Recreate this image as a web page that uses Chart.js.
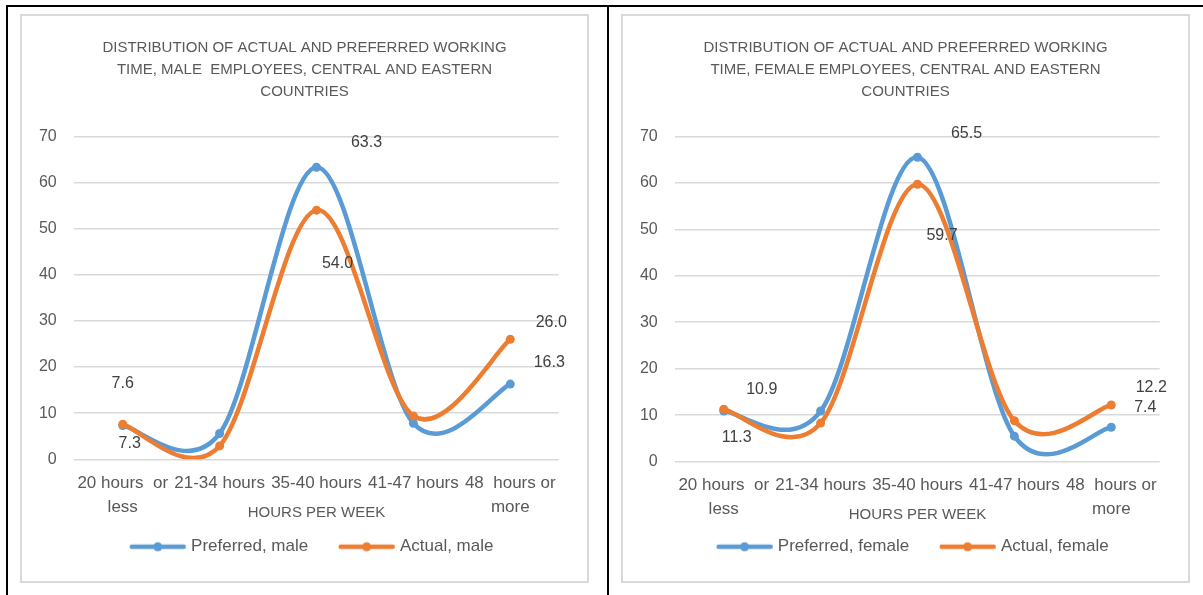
<!DOCTYPE html>
<html>
<head>
<meta charset="utf-8">
<script src="https://cdn.jsdelivr.net/npm/chart.js@4.4.1/dist/chart.umd.min.js"></script>
<style>
  body{margin:0;background:#fff;width:1203px;height:595px;overflow:hidden;position:relative;}
  .rule{position:absolute;background:#000;}
  .box{position:absolute;top:14px;width:565px;height:565px;border:2px solid #d9d9d9;background:#fff;}
  .box canvas{display:block;}
</style>
</head>
<body>
<div class="rule" style="left:6px;top:5px;width:1197px;height:2px"></div>
<div class="rule" style="left:6px;top:5px;width:2px;height:590px"></div>
<div class="rule" style="left:607px;top:5px;width:2px;height:590px"></div>
<div class="box" style="left:20px"><canvas id="male" width="565" height="565"></canvas></div>
<div class="box" style="left:621px"><canvas id="female" width="565" height="565"></canvas></div>
<script>
// data
const categories = [['20 hours  or', 'less'], '21-34 hours', '35-40 hours', '41-47 hours', ['48  hours or', 'more']];
const preferredMale = [7.3, 5.6, 63.3, 7.8, 16.3];
const actualMale = [7.6, 2.9, 54.0, 9.4, 26.0];
const preferredFemale = [10.9, 10.9, 65.5, 5.5, 7.4];
const actualFemale = [11.3, 8.3, 59.7, 8.8, 12.2];

const titleMale = ['DISTRIBUTION OF ACTUAL AND PREFERRED WORKING', 'TIME, MALE  EMPLOYEES, CENTRAL AND EASTERN', 'COUNTRIES'];
const titleFemale = ['DISTRIBUTION OF ACTUAL AND PREFERRED WORKING', 'TIME, FEMALE EMPLOYEES, CENTRAL AND EASTERN', 'COUNTRIES'];

// where the value labels sit, relative to their point (dataset, index, dx, dy)
const labelsMale = [[0,0,7,18],[1,0,0,-41],[0,2,50,-25],[1,2,21,53],[0,4,39,-21],[1,4,41,-17]];
const labelsFemale = [[0,0,38,-21],[1,0,13,28],[0,2,49,-24],[1,2,24.5,51],[0,4,34,-20],[1,4,40,-17]];

const BLUE = '#5b9bd5';
const ORANGE = '#ed7d31';
const GREY = '#595959';
const FONT = "'Liberation Sans', Arial, sans-serif";

// legend marker: thick line with a dot in the middle (blank strip on the left = gap between items)
function legendIcon(color){
    const c = document.createElement('canvas');
    c.width = 74; c.height = 12;
    const g = c.getContext('2d');
    g.strokeStyle = color;
    g.lineWidth = 4.5;
    g.lineCap = 'round';
    g.beginPath(); g.moveTo(19.75, 6); g.lineTo(71.75, 6); g.stroke();
    g.fillStyle = color;
    g.beginPath(); g.arc(45.75, 6, 4.5, 0, Math.PI*2); g.fill();
    return c;
}
const icons = [legendIcon(BLUE), legendIcon(ORANGE)];

// office-style smoothing: uniform catmull-rom (control points at +-1/6 of neighbour span)
const smoothLines = {
    id: 'smoothLines',
    beforeDatasetsDraw(chart){
        chart.getSortedVisibleDatasetMetas().forEach(meta => {
            meta.dataset.updateControlPoints(chart.chartArea, meta.indexAxis);
            const pts = meta.data;
            const n = pts.length;
            pts.forEach((p, i) => {
                const prev = pts[Math.max(i - 1, 0)];
                const next = pts[Math.min(i + 1, n - 1)];
                const dx = (next.x - prev.x) / 6;
                const dy = (next.y - prev.y) / 6;
                p.cp1x = p.x - dx; p.cp1y = p.y - dy;
                p.cp2x = p.x + dx; p.cp2y = p.y + dy;
            });
            meta.dataset._path = undefined;
        });
    }
};

function valueLabels(list){
    return {
        id: 'valueLabels',
        afterLayout(chart){
            // title and legend are centred on the whole box, not only the plot width
            chart.legend.left = 0;
            chart.legend.right = chart.width;
            chart.titleBlock.left = 0;
            chart.titleBlock.right = chart.width;
        },
        afterDatasetsDraw(chart){
            const ctx = chart.ctx;
            ctx.save();
            ctx.font = '16px ' + FONT;
            ctx.fillStyle = '#404040';
            ctx.textAlign = 'center';
            ctx.textBaseline = 'middle';
            list.forEach(([ds, i, dx, dy]) => {
                const pt = chart.getDatasetMeta(ds).data[i];
                const v = chart.data.datasets[ds].data[i];
                ctx.fillText(v.toFixed(1), pt.x + dx, pt.y + dy);
            });
            ctx.restore();
        }
    };
}

function makeChart(id, title, names, prefData, actData, labelList, axisHeight, axisTitleShift){
    return new Chart(document.getElementById(id), {
        type: 'line',
        data: {
            labels: categories,
            datasets: [
                {label: names[0], data: prefData, borderColor: BLUE, backgroundColor: BLUE, order: 1},
                {label: names[1], data: actData, borderColor: ORANGE, backgroundColor: ORANGE, order: 0}
            ]
        },
        options: {
            responsive: false,
            animation: false,
            events: [],
            layout: {padding: {left: 0, right: 28.3, top: 0, bottom: 15.8}},
            elements: {
                line: {borderWidth: 4.5, tension: 0.4, fill: false, capBezierPoints: false},
                point: {radius: 4.5, borderWidth: 0, hoverRadius: 4.5}
            },
            scales: {
                x: {
                    offset: true,
                    grid: {display: false, drawTicks: false},
                    border: {display: false},
                    ticks: {color: GREY, padding: 11.7, maxRotation: 0, autoSkip: false,
                        font: {family: FONT, size: 17, lineHeight: 1.41}},
                    title: {display: true, text: 'HOURS PER WEEK', color: GREY,
                        font: {family: FONT, size: 15, lineHeight: 1.2},
                        padding: {top: 0, bottom: axisTitleShift}},
                    afterFit: s => { s.height = axisHeight; }
                },
                y: {
                    min: 0, max: 70,
                    grid: {color: '#d9d9d9', lineWidth: 1.5, drawTicks: false},
                    border: {display: false},
                    ticks: {stepSize: 10, color: GREY, padding: 17.6, font: {family: FONT, size: 16}},
                    afterFit: s => { s.width = 52.3; }
                }
            },
            plugins: {
                tooltip: {enabled: false},
                title: {display: true, text: title, color: GREY,
                    font: {family: FONT, size: 15, weight: 'normal', lineHeight: 1.487},
                    padding: {top: 20.5, bottom: 32.9}},
                legend: {
                    position: 'bottom',
                    labels: {
                        color: GREY,
                        font: {family: FONT, size: 17},
                        usePointStyle: true,
                        pointStyleWidth: 67,
                        padding: 16.2,
                        generateLabels(chart){
                            const items = Chart.defaults.plugins.legend.labels.generateLabels(chart);
                            items.forEach(it => { it.pointStyle = icons[it.datasetIndex]; });
                            return items.sort((a, b) => a.datasetIndex - b.datasetIndex);
                        }
                    }
                }
            }
        },
        plugins: [smoothLines, valueLabels(labelList)]
    });
}

makeChart('male', titleMale, ['Preferred, male', 'Actual, male'], preferredMale, actualMale, labelsMale, 62.7, -0.3);
makeChart('female', titleFemale, ['Preferred, female', 'Actual, female'], preferredFemale, actualFemale, labelsFemale, 60.3, -2);
</script>
</body>
</html>
